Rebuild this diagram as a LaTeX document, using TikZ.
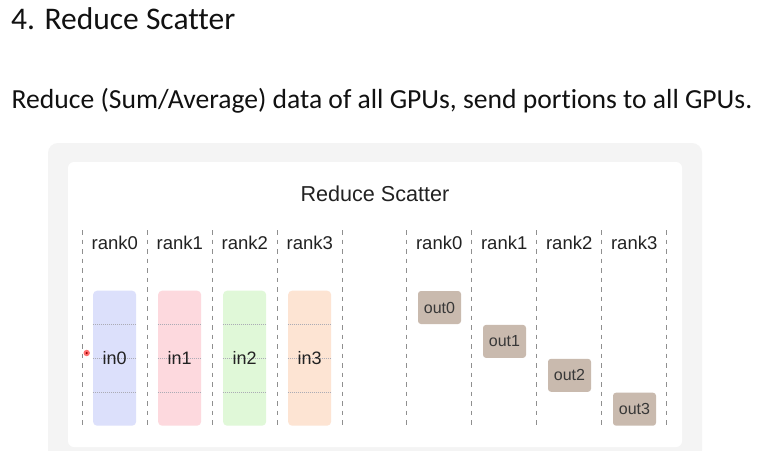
\documentclass[tikz,border=0pt]{standalone}
\usepackage{fontspec}
\setmainfont[Ligatures={NoCommon}]{Carlito}
\newfontfamily\diag{Liberation Sans}
\definecolor{txt}{HTML}{111111}
\definecolor{dtxt}{HTML}{222222}
\definecolor{outerbg}{HTML}{F4F4F4}
\definecolor{dash}{HTML}{8F8F8F}
\definecolor{cin0}{HTML}{DCE0FB}
\definecolor{cin1}{HTML}{FDD9DE}
\definecolor{cin2}{HTML}{E0F8D8}
\definecolor{cin3}{HTML}{FDE4D3}
\definecolor{cout}{HTML}{C9BAAE}
\definecolor{divl}{HTML}{ABABB5}
\begin{document}
\begin{tikzpicture}[x=1pt,y=-1pt,
  rankline/.style={draw=dash, line width=1pt, dash pattern=on 4.5pt off 5pt},
  ranklbl/.style={font=\diag\fontsize{18.5}{22}\selectfont, text=dtxt, anchor=base},
  inbox/.style={rounded corners=4pt, minimum width=43pt, minimum height=135pt, inner sep=0pt, draw=none},
  outbox/.style={fill=cout, rounded corners=3pt, minimum width=43pt, minimum height=33pt, inner sep=0pt, font=\diag\fontsize{16}{18}\selectfont, text=dtxt!90},
  divider/.style={draw=divl, line width=0.5pt, dash pattern=on 1pt off 1pt}
]
\useasboundingbox (0,0) rectangle (759,450);
\fill[white] (0,0) rectangle (759,450);
% titles
\node[anchor=base west, inner sep=0pt, text=txt, font=\fontsize{31.5}{34}\selectfont] (title) at (11,29.5) {4. Reduce Scatter};
\node[anchor=base west, inner sep=0pt, text=txt, font=\fontsize{27.6}{30}\selectfont] (sub) at (11.5,108) {Reduce (Sum/Average) data of all GPUs, send portions to all GPUs.};
% panels
\fill[outerbg, rounded corners=10pt] (48,143) rectangle (702,470);
\fill[white, rounded corners=6pt] (68,162) rectangle (682,447);
\node[font=\diag\fontsize{21.6}{26}\selectfont, text=dtxt, anchor=base] (dtitle) at (375,201) {Reduce Scatter};
% dashed rank lines
\foreach \i in {0,...,4}{
  \coordinate (lt\i) at (82.3+65*\i,230);
  \coordinate (lb\i) at (82.3+65*\i,426);
  \draw[rankline] (lt\i) -- (lb\i);
  \coordinate (rt\i) at (406.7+65*\i,230);
  \coordinate (rb\i) at (406.7+65*\i,426);
  \draw[rankline] (rt\i) -- (rb\i);
}
\foreach \i in {0,...,3}{
  \node[ranklbl] (lr\i) at (114.8+65*\i,249) {rank\i};
  \node[ranklbl] (rr\i) at (439.2+65*\i,249) {rank\i};
}
% input boxes
\foreach \i in {0,...,3}{
  \node[inbox, fill=cin\i] (in\i) at (114.6+65*\i,358.2) {};
  \draw[divider] ([yshift=-33.75pt]in\i.north west) -- ([yshift=-33.75pt]in\i.north east);
  \draw[divider] (in\i.west) -- (in\i.east);
  \draw[divider] ([yshift=33.75pt]in\i.south west) -- ([yshift=33.75pt]in\i.south east);
  \node[font=\diag\fontsize{18}{20}\selectfont, text=dtxt, inner sep=0pt, anchor=base] (inl\i) at ([yshift=-6.5pt]in\i.center) {in\i};
}
% output boxes
\foreach \i in {0,...,3}{
  \node[outbox] (out\i) at (439.5+65*\i,307.5+33.9*\i) {out\i};
}
% pointer dot
\fill[red!70, opacity=0.8] (86.7,353) circle (3.2pt);
\fill[red!60!black] (86.7,353) circle (1.2pt);
\end{tikzpicture}
\end{document}
